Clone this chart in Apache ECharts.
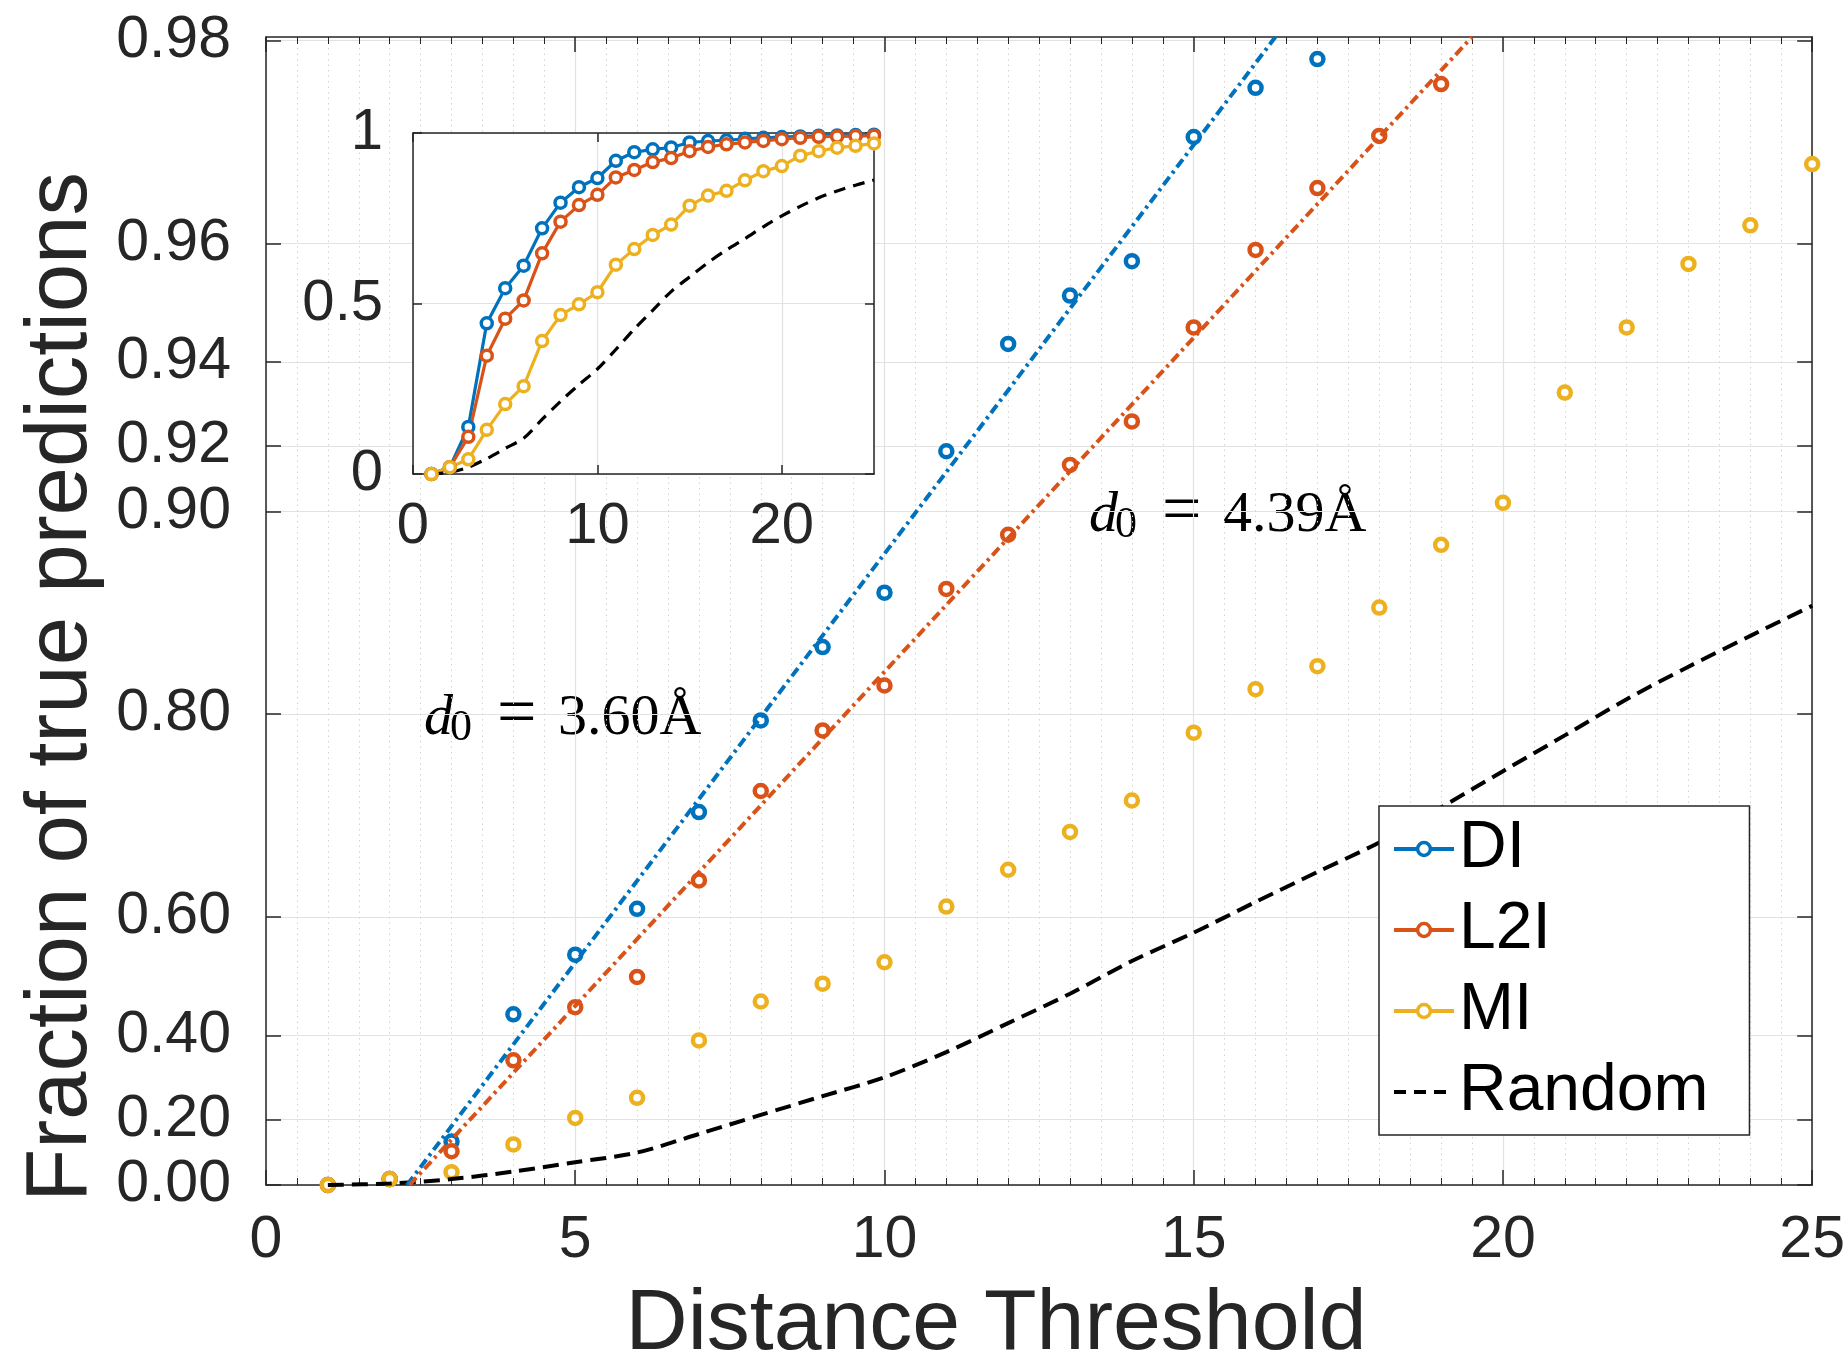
<!DOCTYPE html>
<html>
<head>
<meta charset="utf-8">
<script src="https://cdn.jsdelivr.net/npm/echarts@6/dist/echarts.min.js"></script>
<style>
html, body { margin: 0; padding: 0; background: #fff; }
#chart { width: 1848px; height: 1361px; }
</style>
</head>
<body>
<div id="chart"></div>
<script>
// distance thresholds
var X = [1, 2, 3, 4, 5, 6, 7, 8, 9, 10, 11, 12, 13, 14, 15, 16, 17, 18, 19, 20, 21, 22, 23, 24, 25];

// fraction of true predictions per method
var DI = [0, 0.02, 0.138, 0.442, 0.545, 0.611, 0.7205, 0.7957, 0.841, 0.868, 0.9186, 0.9436, 0.9522,
    0.9575, 0.9722, 0.9765, 0.9787, 0.983, 0.986, 0.988, 0.990, 0.992, 0.993, 0.994, 0.995];
var L2I = [0, 0.02, 0.109, 0.347, 0.4555, 0.509, 0.647, 0.740, 0.7886, 0.8187, 0.8697, 0.8917, 0.9147,
    0.9265, 0.9467, 0.9591, 0.9669, 0.9723, 0.9768, 0.982, 0.986, 0.989, 0.990, 0.991, 0.992];
var MI = [0, 0.02, 0.043, 0.1295, 0.205, 0.2576, 0.39, 0.466, 0.4975, 0.533, 0.614, 0.6596, 0.7009,
    0.7314, 0.787, 0.8164, 0.8303, 0.8611, 0.8879, 0.9029, 0.9334, 0.9467, 0.9571, 0.9624, 0.9695];
var RANDOM = [0, 0.005, 0.02, 0.045, 0.075, 0.105, 0.16, 0.213, 0.262, 0.308, 0.365, 0.425, 0.48,
    0.535, 0.578, 0.62, 0.657, 0.69, 0.725, 0.757, 0.785, 0.81, 0.83, 0.847, 0.862];

// exponential fits, end points
var DI_FIT = [[2.28, 0], [16.32, 0.98025]];
var L2I_FIT = [[2.32, 0], [19.5, 0.98025]];
var D0_DI = '3.60';
var D0_L2I = '4.39';

// y tick labels of the main plot
var Y_TICKS = [0, 0.2, 0.4, 0.6, 0.8, 0.9, 0.92, 0.94, 0.96, 0.98];
var Y_TOP = 0.98025;

var FONT = '"Liberation Sans", Arial, Helvetica, sans-serif';
var SERIF = '"Liberation Serif", "Times New Roman", serif';
var INK = '#262626';
var C_DI = '#0072BD', C_L2I = '#D95319', C_MI = '#EDB120';

// main plot y is -log10(1 - p)
function toT(p) { return -Math.log10(1 - p); }
function fromT(t) { return 1 - Math.pow(10, -t); }

var yTicksT = Y_TICKS.map(toT);

function pts(arr, f) {
    return X.map(function (x, i) { return [x, f ? f(arr[i]) : arr[i]]; });
}
function fitPts(arr) {
    return arr.map(function (d) { return [d[0], toT(d[1])]; });
}

var chart = echarts.init(document.getElementById('chart'));

var boxLine = { show: true, onZero: false, lineStyle: { color: INK, width: 1.5 } };
var gridLine = { show: true, lineStyle: { color: '#e2e2e2', width: 1.2 } };

function xAxisOf(grid, pos, main) {
    var ax = {
        type: 'value', gridIndex: grid, position: pos, min: 0, max: 25,
        interval: main ? 5 : 10,
        axisLine: boxLine,
        axisTick: { show: true, inside: true, length: main ? 15 : 9, lineStyle: { color: INK, width: 1.5 } },
        axisLabel: {
            show: pos === 'bottom', margin: main ? 26 : 24, fontSize: main ? 59 : 58,
            color: INK, fontFamily: FONT, showMaxLabel: main
        },
        splitLine: pos === 'bottom' ? gridLine : { show: false },
        z: main ? 0 : 4
    };
    if (main) {
        ax.minorTick = { show: true, splitNumber: 10, length: 7, lineStyle: { color: INK, width: 1 } };
        ax.minorSplitLine = {
            show: pos === 'bottom',
            lineStyle: { color: '#d2d2d2', width: 1, type: [1.5, 4] }
        };
    }
    return ax;
}

function insetLine(name, arr, color) {
    return {
        name: name, type: 'line', xAxisIndex: 2, yAxisIndex: 2, data: pts(arr), z: 5,
        symbol: 'circle', symbolSize: 11,
        itemStyle: { color: '#fff', borderColor: color, borderWidth: 3.5, opacity: 1 },
        lineStyle: { color: color, width: 3.2 }
    };
}

function mainDots(name, arr, color) {
    return {
        name: name, type: 'scatter', data: pts(arr, toT),
        symbol: 'circle', symbolSize: 12,
        itemStyle: { color: '#fff', borderColor: color, borderWidth: 4.5, opacity: 1 }
    };
}

var option = {
    animation: false,
    backgroundColor: '#fff',
    grid: [
        { left: 266, top: 37, width: 1547, height: 1148 },
        { left: 413, top: 133, width: 461, height: 341, show: true, backgroundColor: '#fff', borderWidth: 0, z: 3 }
    ],
    xAxis: [
        xAxisOf(0, 'bottom', true),
        xAxisOf(0, 'top', true),
        xAxisOf(1, 'bottom', false),
        xAxisOf(1, 'top', false)
    ],
    yAxis: [
        {
            type: 'value', gridIndex: 0, position: 'left', min: 0, max: toT(Y_TOP),
            axisLine: boxLine,
            axisTick: { show: true, inside: true, length: 15, customValues: yTicksT, lineStyle: { color: INK, width: 1.5 } },
            axisLabel: {
                customValues: yTicksT, margin: 35, fontSize: 59, color: INK, fontFamily: FONT,
                formatter: function (v) { return fromT(v).toFixed(2); }
            },
            splitLine: gridLine
        },
        {
            type: 'value', gridIndex: 0, position: 'right', min: 0, max: toT(Y_TOP),
            axisLine: boxLine,
            axisTick: { show: true, inside: true, length: 15, customValues: yTicksT, lineStyle: { color: INK, width: 1.5 } },
            axisLabel: { show: false },
            splitLine: { show: false }
        },
        {
            type: 'value', gridIndex: 1, position: 'left', min: 0, max: 1, interval: 0.5,
            axisLine: boxLine,
            axisTick: { show: true, inside: true, length: 9, lineStyle: { color: INK, width: 1.5 } },
            axisLabel: { margin: 30, fontSize: 58, color: INK, fontFamily: FONT },
            splitLine: gridLine,
            z: 4
        },
        {
            type: 'value', gridIndex: 1, position: 'right', min: 0, max: 1, interval: 0.5,
            axisLine: boxLine,
            axisTick: { show: true, inside: true, length: 9, lineStyle: { color: INK, width: 1.5 } },
            axisLabel: { show: false },
            splitLine: { show: false },
            z: 4
        }
    ],
    legend: {
        data: ['DI', 'L2I', 'MI', { name: 'Random', itemStyle: { opacity: 0 } }],
        orient: 'vertical', left: 1379, top: 806,
        padding: [8, 41, 8, 13],
        itemWidth: 60, itemHeight: 16, itemGap: 11,
        lineStyle: { width: 4 },
        itemStyle: { borderWidth: 3.5 },
        backgroundColor: '#fff', borderColor: INK, borderWidth: 1.5, borderRadius: 0,
        textStyle: { fontSize: 66, lineHeight: 70, color: '#000', fontFamily: FONT },
        z: 6
    },
    series: [
        // inset (first, so the legend takes its line + marker icons)
        insetLine('DI', DI, C_DI),
        insetLine('L2I', L2I, C_L2I),
        insetLine('MI', MI, C_MI),
        {
            name: 'Random', type: 'line', xAxisIndex: 2, yAxisIndex: 2, data: pts(RANDOM), z: 5,
            showSymbol: false, symbol: 'none', smooth: 0.3,
            itemStyle: { color: '#000' },
            lineStyle: { color: '#000', width: 3.2, type: [12, 8] }
        },
        // main plot
        mainDots('DI', DI, C_DI),
        mainDots('L2I', L2I, C_L2I),
        mainDots('MI', MI, C_MI),
        {
            name: 'Random', type: 'line', data: pts(RANDOM, toT),
            showSymbol: false, symbol: 'none', smooth: 0.3,
            lineStyle: { color: '#000', width: 4, type: [16, 8] }
        },
        {
            name: 'DI fit', type: 'line', data: fitPts(DI_FIT), showSymbol: false, symbol: 'none', z: 3,
            lineStyle: { color: C_DI, width: 4, type: [10, 4.5, 3, 4.5] }
        },
        {
            name: 'L2I fit', type: 'line', data: fitPts(L2I_FIT), showSymbol: false, symbol: 'none', z: 3,
            lineStyle: { color: C_L2I, width: 4, type: [10, 4.5, 3, 4.5] }
        }
    ],
    graphic: [
        {
            type: 'text', x: 62, y: 687, rotation: Math.PI / 2,
            style: { text: 'Fraction of true predictions', fontSize: 87, fontFamily: FONT, fill: INK, align: 'center', verticalAlign: 'middle' }
        },
        {
            type: 'text', x: 996, y: 1325,
            style: { text: 'Distance Threshold', fontSize: 86, fontFamily: FONT, fill: INK, align: 'center', verticalAlign: 'middle' }
        },
        d0Label(424, 719, D0_DI),
        d0Label(1089, 516, D0_L2I),
        {
            type: 'text', x: -14, y: 475,
            style: { text: '3', fontSize: 48, fontFamily: FONT, fontWeight: 'bold', fill: '#c8321e', align: 'center', verticalAlign: 'middle' }
        }
    ]
};

function d0Label(left, cy, val) {
    var base = { fontFamily: SERIF, fill: '#000', align: 'left', verticalAlign: 'middle' };
    function st(extra) { return Object.assign({}, base, extra); }
    return {
        type: 'group', x: left, y: cy,
        children: [
            { type: 'text', x: 0, y: 0, style: st({ text: 'd', fontSize: 58, fontStyle: 'italic' }) },
            { type: 'text', x: 26, y: 9, style: st({ text: '0', fontSize: 44 }) },
            { type: 'text', x: 73, y: -2, style: st({ text: '=', fontSize: 70 }) },
            { type: 'text', x: 134, y: 0, style: st({ text: val + 'Å', fontSize: 58 }) }
        ]
    };
}

chart.setOption(option);
</script>
</body>
</html>
